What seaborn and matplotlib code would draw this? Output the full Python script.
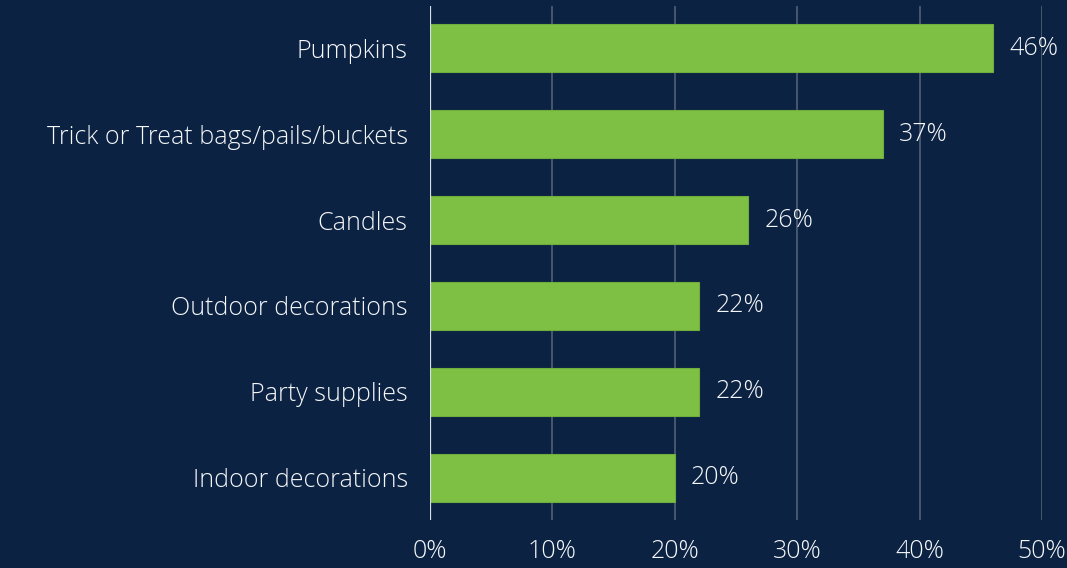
import matplotlib
matplotlib.use("Agg")
import matplotlib.pyplot as plt
import seaborn as sns
import pandas as pd

categories = ["Pumpkins", "Trick or Treat bags/pails/buckets", "Candles",
              "Outdoor decorations", "Party supplies", "Indoor decorations"]
shares = [0.46, 0.37, 0.26, 0.22, 0.22, 0.20]
tick_values = [0.0, 0.1, 0.2, 0.3, 0.4, 0.5]
tick_labels = ["0%", "10%", "20%", "30%", "40%", "50%"]

BG = "#0b2243"
GREEN = "#7dc043"
TEXT = "#f6f7f9"
GRID = "#4b5b72"
FS = 18

sns.set_theme(style="white")
plt.rcParams["font.family"] = ["Open Sans", "DejaVu Sans"]

df = pd.DataFrame({"category": categories, "share": shares})

fig = plt.figure(figsize=(10.67, 5.68), dpi=100, facecolor=BG)
ax = fig.add_axes([0.403, 0.0845, 0.5737, 0.905])
ax.set_facecolor(BG)

sns.barplot(data=df, x="share", y="category", orient="h", color=GREEN,
            width=0.56, saturation=1, edgecolor="#6fae3a", linewidth=0.8,
            ax=ax, zorder=3)

ax.set_xlim(0, 0.5)
ax.set_ylim(5.49, -0.49)
ax.set_xticks(tick_values)
ax.set_xticklabels(tick_labels, color=TEXT, fontsize=FS, fontweight="light")
ax.tick_params(axis="x", length=0, pad=14)
ax.tick_params(axis="y", length=0, pad=16)
for lbl in ax.get_yticklabels():
    lbl.set_color(TEXT)
    lbl.set_fontsize(FS)
    lbl.set_fontweight("light")
ax.set_xlabel("")
ax.set_ylabel("")

for x in tick_values[1:]:
    ax.axvline(x, color=GRID, linewidth=1.3, zorder=1)
ax.axvline(0, color="#d8dde3", linewidth=1.6, zorder=4)

for s in ax.spines.values():
    s.set_visible(False)

for i, v in enumerate(shares):
    ax.annotate(f"{v*100:.0f}%", xy=(v, i), xytext=(16, 0),
                textcoords="offset pixels",
                va="center", ha="left", color=TEXT, fontsize=FS,
                fontweight="light", annotation_clip=False)

fig.savefig("out.png", dpi=100, facecolor=BG)
